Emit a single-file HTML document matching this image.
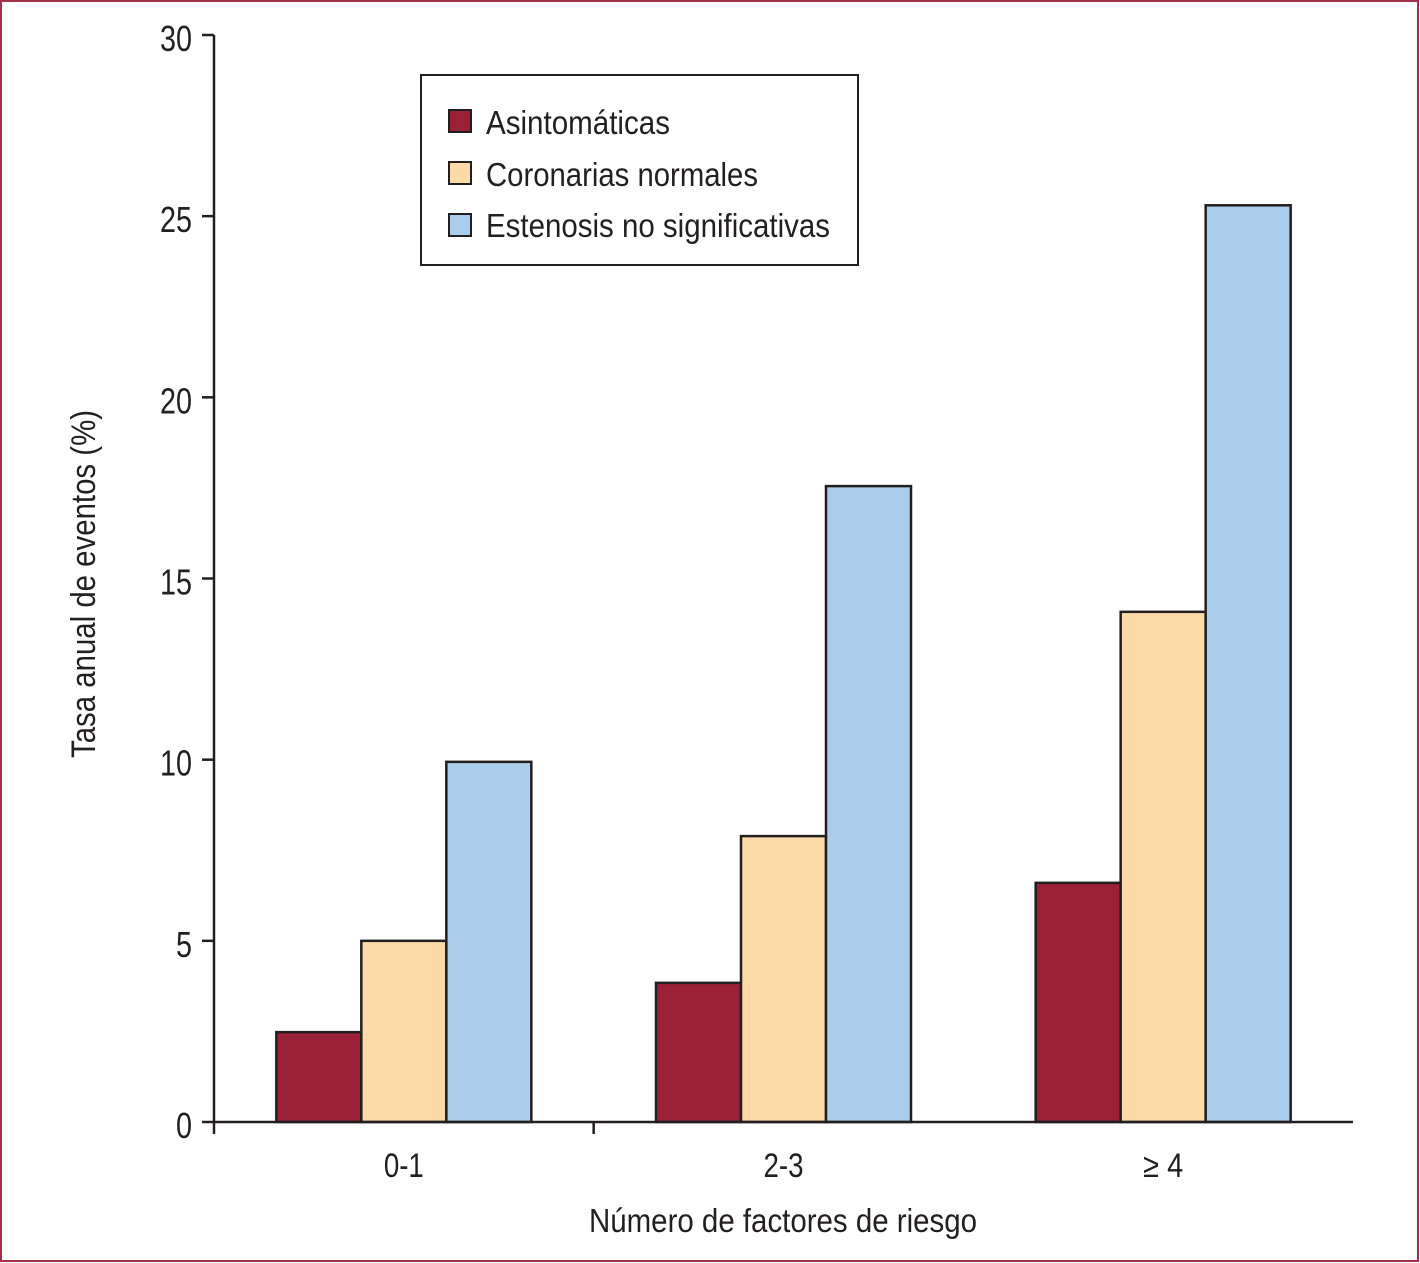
<!DOCTYPE html>
<html><head><meta charset="utf-8"><style>
html,body{margin:0;padding:0;background:#fff}
svg{display:block}
text{font-family:"Liberation Sans Narrow","Liberation Sans",sans-serif;fill:#231f20}
</style></head><body>
<svg id="chart" width="1420" height="1263" viewBox="0 0 1420 1263">
<rect x="1" y="1" width="1417" height="1260" fill="#fff" stroke="#a3314a" stroke-width="2"/>
<g id="bars"></g>
<g id="axes"></g>
<g>
<rect x="421" y="75" width="437" height="190" fill="#fff" stroke="#231f20" stroke-width="2"/>
<rect x="449" y="110" width="22" height="22" fill="#9b2139" stroke="#231f20" stroke-width="2"/>
<text x="486" y="134" font-size="33" textLength="184" lengthAdjust="spacingAndGlyphs">Asintomáticas</text>
<rect x="449" y="162" width="22" height="22" fill="#fddba8" stroke="#231f20" stroke-width="2"/>
<text x="486" y="186" font-size="33" textLength="272" lengthAdjust="spacingAndGlyphs">Coronarias normales</text>
<rect x="449" y="214" width="22" height="22" fill="#abcdec" stroke="#231f20" stroke-width="2"/>
<text x="486" y="237" font-size="33" textLength="344" lengthAdjust="spacingAndGlyphs">Estenosis no significativas</text>
</g>
<text transform="translate(95,584) rotate(-90)" text-anchor="middle" font-size="34" textLength="348" lengthAdjust="spacingAndGlyphs">Tasa anual de eventos (%)</text>
<text x="783" y="1232" text-anchor="middle" font-size="33" textLength="388" lengthAdjust="spacingAndGlyphs">Número de factores de riesgo</text>
</svg>
<script>
const categories = ["0-1", "2-3", "≥ 4"];
const asintomaticas = [2.48, 3.84, 6.6];
const coronarias = [5.0, 7.89, 14.08];
const estenosis = [9.94, 17.55, 25.3];
const yTicks = [0, 5, 10, 15, 20, 25, 30];

const NS = "http://www.w3.org/2000/svg";
const x0 = 214, x1 = 1353, yBase = 1122, yTop = 35, yMax = 30;
const y = v => yBase - (v / yMax) * (yBase - yTop);
const band = (x1 - x0) / categories.length;
const xc = i => x0 + band * (i + 0.5);
const barW = 85;
const series = [
  {vals: asintomaticas, color: "#9b2139", name: "asintomaticas"},
  {vals: coronarias, color: "#fddba8", name: "coronarias"},
  {vals: estenosis, color: "#abcdec", name: "estenosis"}
];
const bars = document.getElementById("bars");
const axes = document.getElementById("axes");
function mk(tag, attrs, parent){ const e=document.createElementNS(NS,tag); for(const k in attrs) e.setAttribute(k,attrs[k]); parent.appendChild(e); return e; }

categories.forEach((c, i) => {
  series.forEach((s, j) => {
    const left = xc(i) - 1.5 * barW + j * barW;
    const r = mk("rect", {x:left, y:y(s.vals[i]), width:barW, height:yBase - y(s.vals[i]), fill:s.color, stroke:"#231f20", "stroke-width":2.5}, bars);
    
    
  });
  const t = mk("text", {x:xc(i), y:1177, "text-anchor":"middle", "font-size":34, textLength:40, lengthAdjust:"spacingAndGlyphs"}, axes);
  t.textContent = c;
  
  
});
const yl = mk("line", {x1:x0, y1:yTop, x2:x0, y2:yBase+12, stroke:"#231f20", "stroke-width":2.5}, axes);


const xl = mk("line", {x1:x0, y1:yBase, x2:x1, y2:yBase, stroke:"#231f20", "stroke-width":2.5}, axes);


const xt = mk("line", {x1:x0+band, y1:yBase, x2:x0+band, y2:yBase+12, stroke:"#231f20", "stroke-width":2.5}, axes);


yTicks.forEach(v => {
  const l = mk("line", {x1:x0-12, y1:y(v), x2:x0, y2:y(v), stroke:"#231f20", "stroke-width":2.5}, axes);
  
  
  const t = mk("text", {x:192, y:y(v)+16, "text-anchor":"end", "font-size":36, textLength:String(v).length*16, lengthAdjust:"spacingAndGlyphs"}, axes);
  t.textContent = v;
  
  
});
</script>
</body></html>
